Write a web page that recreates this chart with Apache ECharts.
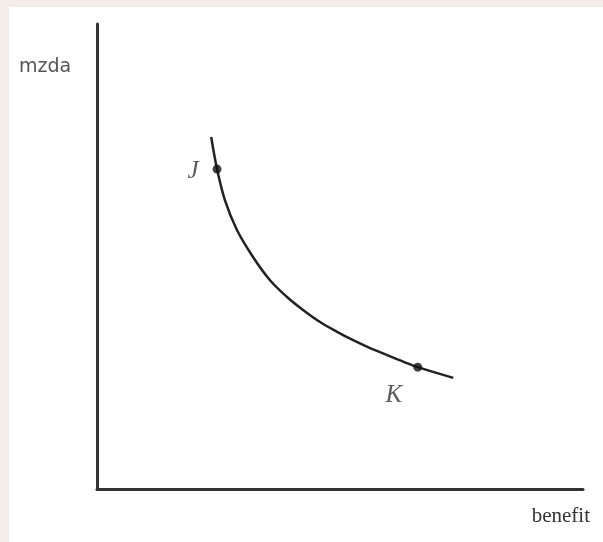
<!DOCTYPE html>
<html>
  <head>
    <meta charset="utf-8" />
    <title>mzda / benefit</title>
    <script src="https://cdn.jsdelivr.net/npm/echarts@6.0.0/dist/echarts.min.js"></script>
    <style>
      html, body { margin: 0; padding: 0; }
    </style>
  </head>
  <body>
    <div id="chartContainer" style="width: 603px;height:542px;"></div>
    <script>
        // krivka, osy 0..10
        var curveX = [2.35, 2.47, 2.63, 2.88, 3.21, 3.56, 3.91, 4.24, 4.59, 4.94, 5.27, 5.62, 5.97, 6.30, 6.60, 7.33];
        var curveY = [7.57, 6.88, 6.22, 5.57, 4.99, 4.49, 4.13, 3.85, 3.59, 3.38, 3.20, 3.03, 2.88, 2.74, 2.62, 2.39];

        // body J a K
        var pointNames = ['J', 'K'];
        var pointX = [2.47, 6.60];
        var pointY = [6.88, 2.62];

        var xName = 'benefit';
        var yName = 'mzda';

        var myChart = echarts.init(document.getElementById('chartContainer'));

        var curveData = curveX.map(function (x, i) { return [x, curveY[i]]; });
        var pointData = pointX.map(function (x, i) {
          return {
            name: pointNames[i],
            value: [x, pointY[i]],
            label: i === 0
              ? { position: 'left', distance: 14, offset: [0, 2] }
              : { position: 'bottom', distance: 10, offset: [-24, 1] }
          };
        });

        var hiddenAxis = {
          type: 'value',
          min: 0,
          max: 10,
          axisLine: { show: true, lineStyle: { color: '#333', width: 3 } },
          axisTick: { show: false },
          axisLabel: { show: false },
          splitLine: { show: false }
        };

        var option = {
          backgroundColor: '#f2eee7',
          animation: false,
          graphic: [
            {
              type: 'rect',
              shape: { x: 9, y: 7, width: 603, height: 542 },
              style: { fill: '#ffffff' },
              z: -10
            },
            {
              type: 'text',
              left: 19,
              top: 58,
              style: { text: yName, fill: '#555', font: '19px "DejaVu Sans", Verdana, sans-serif' }
            },
            {
              type: 'text',
              right: 13,
              top: 506,
              style: { text: xName, fill: '#333', font: '21px "Liberation Serif", "Times New Roman", serif' }
            }
          ],
          grid: { left: 97, top: 24, width: 486, height: 465 },
          xAxis: hiddenAxis,
          yAxis: hiddenAxis,
          series: [
            {
              type: 'line',
              data: curveData,
              smooth: 0.35,
              showSymbol: false,
              lineStyle: { color: '#222', width: 2.5 }
            },
            {
              type: 'scatter',
              data: pointData,
              symbolSize: 9,
              itemStyle: { color: '#111' },
              label: {
                show: true,
                formatter: '{b}',
                color: '#333',
                fontFamily: '"Liberation Serif", "Times New Roman", serif',
                fontStyle: 'italic',
                fontSize: 25
              },
              z: 5
            }
          ]
        };

        myChart.setOption(option);
    </script>
  </body>
</html>
